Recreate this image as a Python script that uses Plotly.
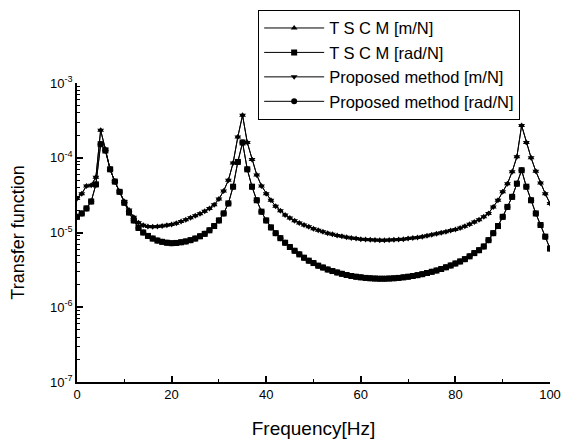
import plotly.graph_objects as go

freq = list(range(0, 101))

# Upper curve  -- m/N
tscm_m = [
    2.86e-5, 3.3e-5, 4.2e-5, 4.3e-5, 5.5e-5, 2.33e-4, 1.3e-4, 7.0e-5, 4.8e-5, 3.5e-5,
    2.6e-5, 2.0e-5, 1.6e-5, 1.35e-5, 1.25e-5, 1.2e-5, 1.19e-5, 1.2e-5, 1.22e-5, 1.25e-5,
    1.28e-5, 1.33e-5, 1.4e-5, 1.48e-5, 1.57e-5, 1.67e-5, 1.78e-5, 1.92e-5, 2.1e-5, 2.35e-5,
    2.8e-5, 3.6e-5, 5.0e-5, 8.5e-5, 1.9e-4, 3.7e-4, 1.6e-4, 9.5e-5, 5.9e-5, 4.2e-5,
    3.3e-5, 2.7e-5, 2.25e-5, 1.95e-5, 1.72e-5, 1.56e-5, 1.44e-5, 1.34e-5, 1.26e-5, 1.19e-5,
    1.12e-5, 1.07e-5, 1.02e-5, 9.8e-6, 9.45e-6, 9.15e-6, 8.9e-6, 8.65e-6, 8.45e-6, 8.3e-6,
    8.15e-6, 8.05e-6, 7.97e-6, 7.92e-6, 7.9e-6, 7.9e-6, 7.92e-6, 7.97e-6, 8.05e-6, 8.15e-6,
    8.3e-6, 8.45e-6, 8.6e-6, 8.8e-6, 9.05e-6, 9.3e-6, 9.6e-6, 9.9e-6, 1.02e-5, 1.06e-5,
    1.1e-5, 1.15e-5, 1.21e-5, 1.29e-5, 1.38e-5, 1.48e-5, 1.62e-5, 1.8e-5, 2.2e-5, 2.7e-5,
    3.5e-5, 4.5e-5, 6.5e-5, 1.03e-4, 2.7e-4, 1.6e-4, 1.0e-4, 6.6e-5, 4.6e-5, 3.3e-5,
    2.45e-5,
]

# Lower curve  -- rad/N
tscm_rad = [
    1.62e-5, 1.8e-5, 2.1e-5, 2.6e-5, 4.4e-5, 1.52e-4, 1.25e-4, 7.0e-5, 4.8e-5, 3.5e-5,
    2.5e-5, 1.85e-5, 1.45e-5, 1.15e-5, 1.0e-5, 9.0e-6, 8.3e-6, 7.8e-6, 7.5e-6, 7.3e-6,
    7.2e-6, 7.25e-6, 7.4e-6, 7.6e-6, 7.9e-6, 8.3e-6, 8.9e-6, 9.6e-6, 1.07e-5, 1.22e-5,
    1.45e-5, 1.8e-5, 2.45e-5, 4.1e-5, 8.8e-5, 1.6e-4, 7.0e-5, 4.1e-5, 2.7e-5, 1.9e-5,
    1.45e-5, 1.17e-5, 9.8e-6, 8.4e-6, 7.3e-6, 6.4e-6, 5.7e-6, 5.1e-6, 4.6e-6, 4.2e-6,
    3.9e-6, 3.6e-6, 3.4e-6, 3.2e-6, 3.05e-6, 2.92e-6, 2.8e-6, 2.7e-6, 2.62e-6, 2.56e-6,
    2.51e-6, 2.47e-6, 2.44e-6, 2.42e-6, 2.41e-6, 2.41e-6, 2.42e-6, 2.44e-6, 2.47e-6, 2.51e-6,
    2.56e-6, 2.62e-6, 2.69e-6, 2.77e-6, 2.87e-6, 2.98e-6, 3.1e-6, 3.25e-6, 3.42e-6, 3.62e-6,
    3.85e-6, 4.1e-6, 4.4e-6, 4.8e-6, 5.3e-6, 5.8e-6, 6.5e-6, 7.9e-6, 9.8e-6, 1.22e-5,
    1.62e-5, 2.2e-5, 3.0e-5, 4.5e-5, 6.8e-5, 4.1e-5, 2.7e-5, 1.8e-5, 1.26e-5, 8.8e-6,
    6.1e-6,
]

# The proposed-method curves coincide with TSCM in the picture
prop_m = list(tscm_m)
prop_rad = list(tscm_rad)

series_names = ["T S C M [m/N]", "T S C M [rad/N]",
                "Proposed method [m/N]", "Proposed method [rad/N]"]
series_vals = [tscm_m, tscm_rad, prop_m, prop_rad]
symbols = ["triangle-up", "square", "triangle-down", "circle"]

x_ticks = [0, 20, 40, 60, 80, 100]
x_minor = [10, 30, 50, 70, 90]
y_ticks = [1e-7, 1e-6, 1e-5, 1e-4, 1e-3]
y_ticktext = ["10<sup>-7</sup>", "10<sup>-6</sup>", "10<sup>-5</sup>",
              "10<sup>-4</sup>", "10<sup>-3</sup>"]
y_minor = [m * 10.0 ** e for e in range(-7, -3) for m in range(2, 10)]

font_family = "Liberation Sans, Arial, sans-serif"

fig = go.Figure()
for name, vals, sym in zip(series_names, series_vals, symbols):
    fig.add_trace(go.Scatter(
        x=freq, y=vals, name=name, mode="lines+markers",
        line=dict(color="black", width=1),
        marker=dict(symbol=sym, size=6, color="black"),
    ))

fig.update_layout(
    width=581, height=443,
    paper_bgcolor="white", plot_bgcolor="white",
    margin=dict(l=69, r=39, t=75, b=69, autoexpand=False),
    font=dict(family=font_family, color="black", size=13),
    showlegend=True,
    legend=dict(
        x=0.383, y=1.245, xanchor="left", yanchor="top",
        bgcolor="white", bordercolor="black", borderwidth=1,
        font=dict(size=16.5, family=font_family),
        itemwidth=60, tracegroupgap=0,
    ),
)

fig.update_xaxes(
    range=[0, 100], showline=True, linecolor="black", linewidth=1.5,
    showgrid=False, zeroline=False, mirror=False,
    tickmode="array", tickvals=x_ticks, ticks="inside", ticklen=6,
    tickwidth=1.5, tickcolor="black",
    tickfont=dict(size=13),
    minor=dict(tickmode="array", tickvals=x_minor, ticks="inside", ticklen=3,
               tickwidth=1, tickcolor="black", showgrid=False),
    title=dict(text="Frequency[Hz]", font=dict(size=19), standoff=20),
)

fig.update_yaxes(
    type="log", range=[-7, -3], showline=True, linecolor="black", linewidth=1.5,
    showgrid=False, zeroline=False, mirror=False,
    tickmode="array", tickvals=y_ticks, ticktext=y_ticktext,
    ticks="inside", ticklen=6, tickwidth=1.5, tickcolor="black",
    tickfont=dict(size=13),
    minor=dict(tickmode="array", tickvals=y_minor, ticks="inside", ticklen=3,
               tickwidth=1, tickcolor="black", showgrid=False),
    title=dict(text="Transfer function", font=dict(size=18), standoff=21),
)

fig.write_html("out.html")
